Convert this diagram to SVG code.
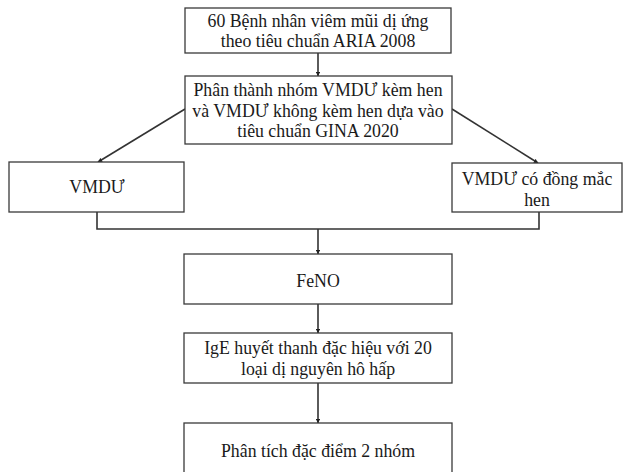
<svg xmlns="http://www.w3.org/2000/svg" width="624" height="472" viewBox="0 0 624 472">
  <style>
    .box { fill: #ffffff; stroke: #3a3a3a; stroke-width: 1.3; }
    .lbl { font-family: "Liberation Serif", "Times New Roman", "DejaVu Serif", serif; font-size: 17.8px; fill: #1a1a1a; text-anchor: middle; }
    .wire { fill: none; stroke: #333333; stroke-width: 1.6; }
  </style>
  <defs>
    <marker id="head" viewBox="0 0 8 8" refX="7.5" refY="4" markerWidth="4.5" markerHeight="4.5" orient="auto" markerUnits="userSpaceOnUse">
      <path d="M0,0 L8,4 L0,8 Z" fill="#222222"/>
    </marker>
  </defs>
  <rect width="624" height="472" fill="#ffffff"/>

  <g id="connectors">
    <line class="wire" x1="318" y1="53" x2="318" y2="76" marker-end="url(#head)"/>
    <line class="wire" x1="185" y1="109" x2="98" y2="162" marker-end="url(#head)"/>
    <line class="wire" x1="452" y1="109" x2="538" y2="163" marker-end="url(#head)"/>
    <polyline class="wire" points="97,212 97,229 539,229 539,212"/>
    <line class="wire" x1="318" y1="229" x2="318" y2="254" marker-end="url(#head)"/>
    <line class="wire" x1="318" y1="304" x2="318" y2="333" marker-end="url(#head)"/>
    <line class="wire" x1="318" y1="383" x2="318" y2="423" marker-end="url(#head)"/>
  </g>

  <g id="n-patients">
    <rect class="box" x="185" y="8" width="266" height="45"/>
    <text class="lbl" x="318" y="27">60 Bệnh nhân viêm mũi dị ứng</text>
    <text class="lbl" x="318" y="47">theo tiêu chuẩn ARIA 2008</text>
  </g>

  <g id="n-split">
    <rect class="box" x="185" y="76" width="267" height="68"/>
    <text class="lbl" x="318" y="96">Phân thành nhóm VMDƯ kèm hen</text>
    <text class="lbl" x="318" y="116.5">và VMDƯ không kèm hen dựa vào</text>
    <text class="lbl" x="318" y="137">tiêu chuẩn GINA 2020</text>
  </g>

  <g id="n-vmdu">
    <rect class="box" x="9" y="162" width="175" height="50"/>
    <text class="lbl" x="97" y="193">VMDƯ</text>
  </g>

  <g id="n-vmdu-hen">
    <rect class="box" x="452" y="163" width="170" height="49"/>
    <text class="lbl" x="537" y="185">VMDƯ có đồng mắc</text>
    <text class="lbl" x="537" y="205.5">hen</text>
  </g>

  <g id="n-feno">
    <rect class="box" x="184" y="254" width="268" height="50"/>
    <text class="lbl" x="318" y="286.5">FeNO</text>
  </g>

  <g id="n-ige">
    <rect class="box" x="184" y="333" width="268" height="50"/>
    <text class="lbl" x="318" y="354">IgE huyết thanh đặc hiệu với 20</text>
    <text class="lbl" x="318" y="375">loại dị nguyên hô hấp</text>
  </g>

  <g id="n-analysis">
    <rect class="box" x="184" y="423" width="268" height="60"/>
    <text class="lbl" x="318" y="457">Phân tích đặc điểm 2 nhóm</text>
  </g>
</svg>
